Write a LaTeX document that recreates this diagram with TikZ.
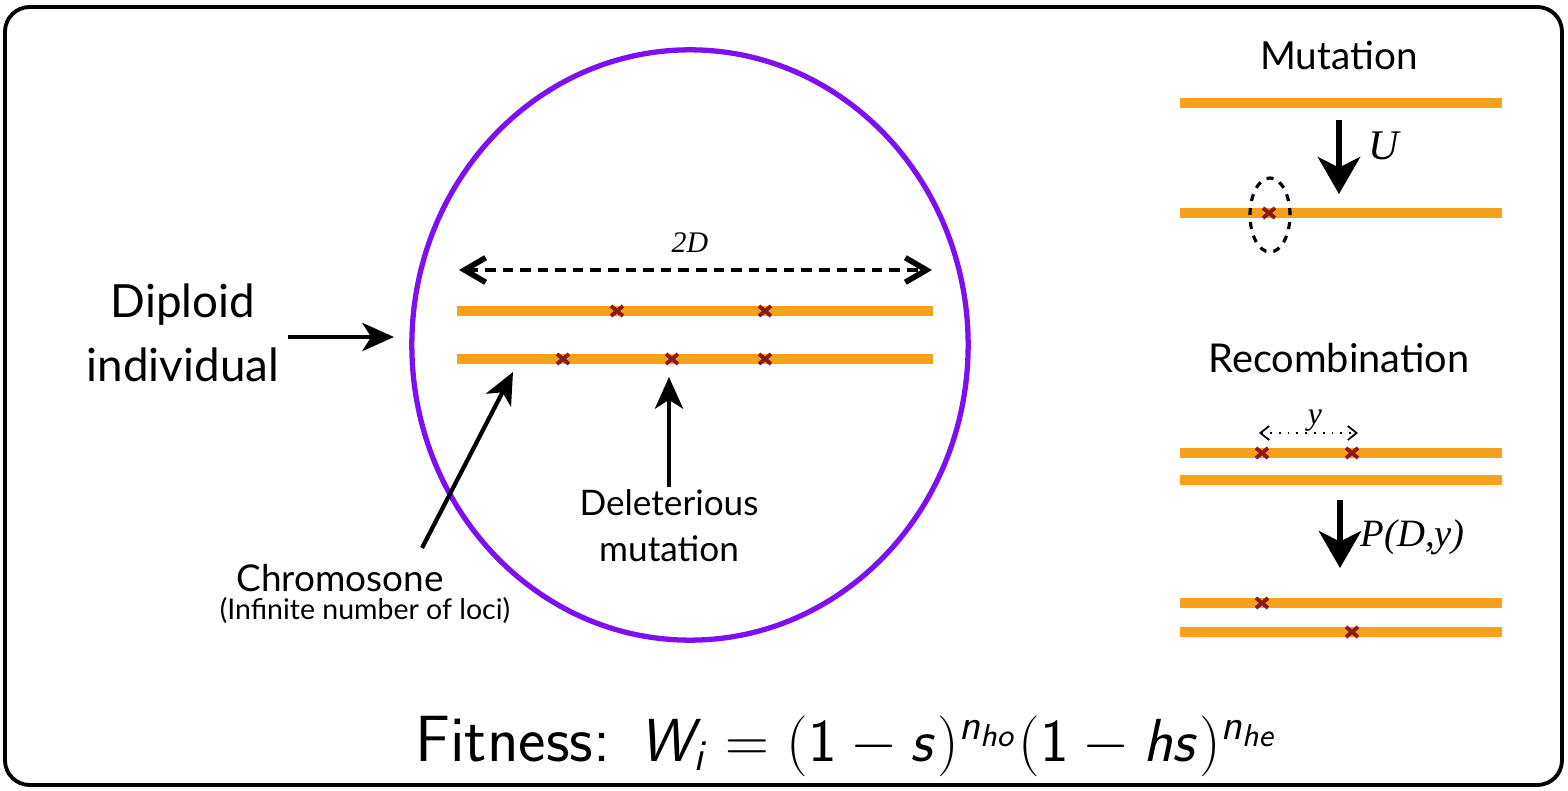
\documentclass[tikz,border=0pt]{standalone}
\usepackage{fontspec}
\newfontfamily\gill{Lato}
\newfontfamily\tms{Liberation Serif}
\usetikzlibrary{arrows.meta,shapes.geometric}
\definecolor{chrom}{RGB}{248,160,28}
\definecolor{mutred}{RGB}{140,25,20}
\definecolor{cellc}{RGB}{125,15,240}
\DeclareMathAlphabet{\mathsfit}{OT1}{cmss}{m}{sl}
\DeclareMathAlphabet{\mathsfup}{OT1}{cmss}{m}{n}
\tikzset{
  bar/.style={chrom, line width=3pt},
  mut/.pic={\draw[mutred, line width=1.1pt] (-6,-5)--(6,5) (-6,5)--(6,-5);},
  bigarrow/.style={line width=1.2pt, -{Stealth[length=9pt,width=8pt,inset=2.5pt]}},
  downarrow/.style={line width=1.8pt, -{Stealth[length=10.5pt,width=12pt,inset=3pt]}},
  lab/.style={font=\gill\fontsize{10}{12}\selectfont, align=center, inner sep=0pt},
  mathlab/.style={font=\tms\itshape\fontsize{11}{12}\selectfont, inner sep=0pt},
}
\begin{document}
\begin{tikzpicture}[x=0.01cm,y=-0.01cm]
\useasboundingbox (0,0) rectangle (1568,791);
\draw[line width=1.1pt, rounded corners=7pt] (5,7) rectangle (1562,785);

% cell
\node[draw=cellc, line width=1.5pt, ellipse, minimum width=5.56cm, minimum height=5.9cm, inner sep=0pt] (cell) at (690,345) {};

% 2D arrow
\coordinate (dL) at (459,270);
\coordinate (dR) at (932,270);
\draw[line width=1.4pt, dash pattern=on 3pt off 2pt, {Straight Barb[length=6pt,width=7pt,line width=1.6pt]}-{Straight Barb[length=6pt,width=7pt,line width=1.6pt]}] (dL) -- (dR);
\node[mathlab, font=\tms\itshape\fontsize{8.5}{10}\selectfont] (twoD) at (690,243) {2D};

% chromosomes
\draw[bar] (457,311) -- (933,311);
\draw[bar] (457,359) -- (933,359);
\pic at (617,311) {mut};
\pic at (765,311) {mut};
\pic at (563,359) {mut};
\pic at (672,359) {mut};
\pic at (765,359) {mut};

% Diploid
\node[lab, font=\gill\fontsize{13}{18}\selectfont] (dip) at (183,333) {Diploid\\individual};
\coordinate (dipS) at (288,337);
\coordinate (dipE) at (394,337);
\draw[bigarrow] (dipS) -- (dipE);

% Chromosone
\node[lab, font=\gill\fontsize{10.5}{12}\selectfont, text depth=0pt] (chr) at (340,578) {Chromosone};
\node[lab, font=\gill\fontsize{8.1}{10}\selectfont] (loci) at (365,611) {(Infinite number of loci)};
\coordinate (chrS) at (422,548);
\coordinate (chrE) at (513,372);
\draw[bigarrow] (chrS) -- (chrE);

% Deleterious
\node[lab, font=\gill\fontsize{10}{13}\selectfont] (del) at (669,526) {Deleterious\\mutation};
\coordinate (delS) at (669,487);
\coordinate (delE) at (669,377);
\draw[bigarrow] (delS) -- (delE);

% Mutation panel
\node[lab, font=\gill\fontsize{11}{12}\selectfont] (mutT) at (1339,55) {Mutation};
\draw[bar] (1180,103) -- (1502,103);
\draw[bar] (1180,213) -- (1502,213);
\pic at (1269,213) {mut};
\node[draw, line width=0.9pt, dash pattern=on 2pt off 2pt, ellipse, minimum width=0.4cm, minimum height=0.74cm, inner sep=0pt] (circU) at (1270,215) {};
\coordinate (uS) at (1339,120);
\coordinate (uE) at (1339,194);
\draw[downarrow] (uS) -- (uE);
\node[mathlab, font=\tms\itshape\fontsize{12}{13}\selectfont, anchor=west] (U) at (1368,146) {U};

% Recombination panel
\node[lab, font=\gill\fontsize{11.3}{12}\selectfont] (recT) at (1339,358) {Recombination};
\coordinate (yL) at (1259,433);
\coordinate (yR) at (1358,433);
\draw[line width=0.5pt, dotted, {Straight Barb[length=2.5pt,width=4pt]}-{Straight Barb[length=2.5pt,width=4pt]}] (yL) -- (yR);
\node[mathlab, font=\tms\itshape\fontsize{9}{10}\selectfont] (ylab) at (1315,421) {y};
\draw[bar] (1180,453) -- (1502,453);
\draw[bar] (1180,480) -- (1502,480);
\pic at (1262,453) {mut};
\pic at (1352,453) {mut};
\coordinate (pS) at (1340,500);
\coordinate (pE) at (1340,568);
\draw[downarrow] (pS) -- (pE);
\node[mathlab, anchor=west] (P) at (1360,537) {P(D,y)};
\draw[bar] (1180,603) -- (1502,603);
\draw[bar] (1180,632) -- (1502,632);
\pic at (1262,603) {mut};
\pic at (1352,632) {mut};

% Fitness
\node[font=\fontsize{18.6}{22}\selectfont, inner sep=0pt] (fit) at (847,746)
  {\sffamily Fitness:\hspace{0.45em}$\mathsfit{W}_{\mathsfit{i}} = (\mathsfup{1}-\mathsfit{s})^{\mathsfit{n}_{\mathsfit{ho}}}(\mathsfup{1}-\mathsfit{hs})^{\mathsfit{n}_{\mathsfit{he}}}$};
\end{tikzpicture}
\end{document}
